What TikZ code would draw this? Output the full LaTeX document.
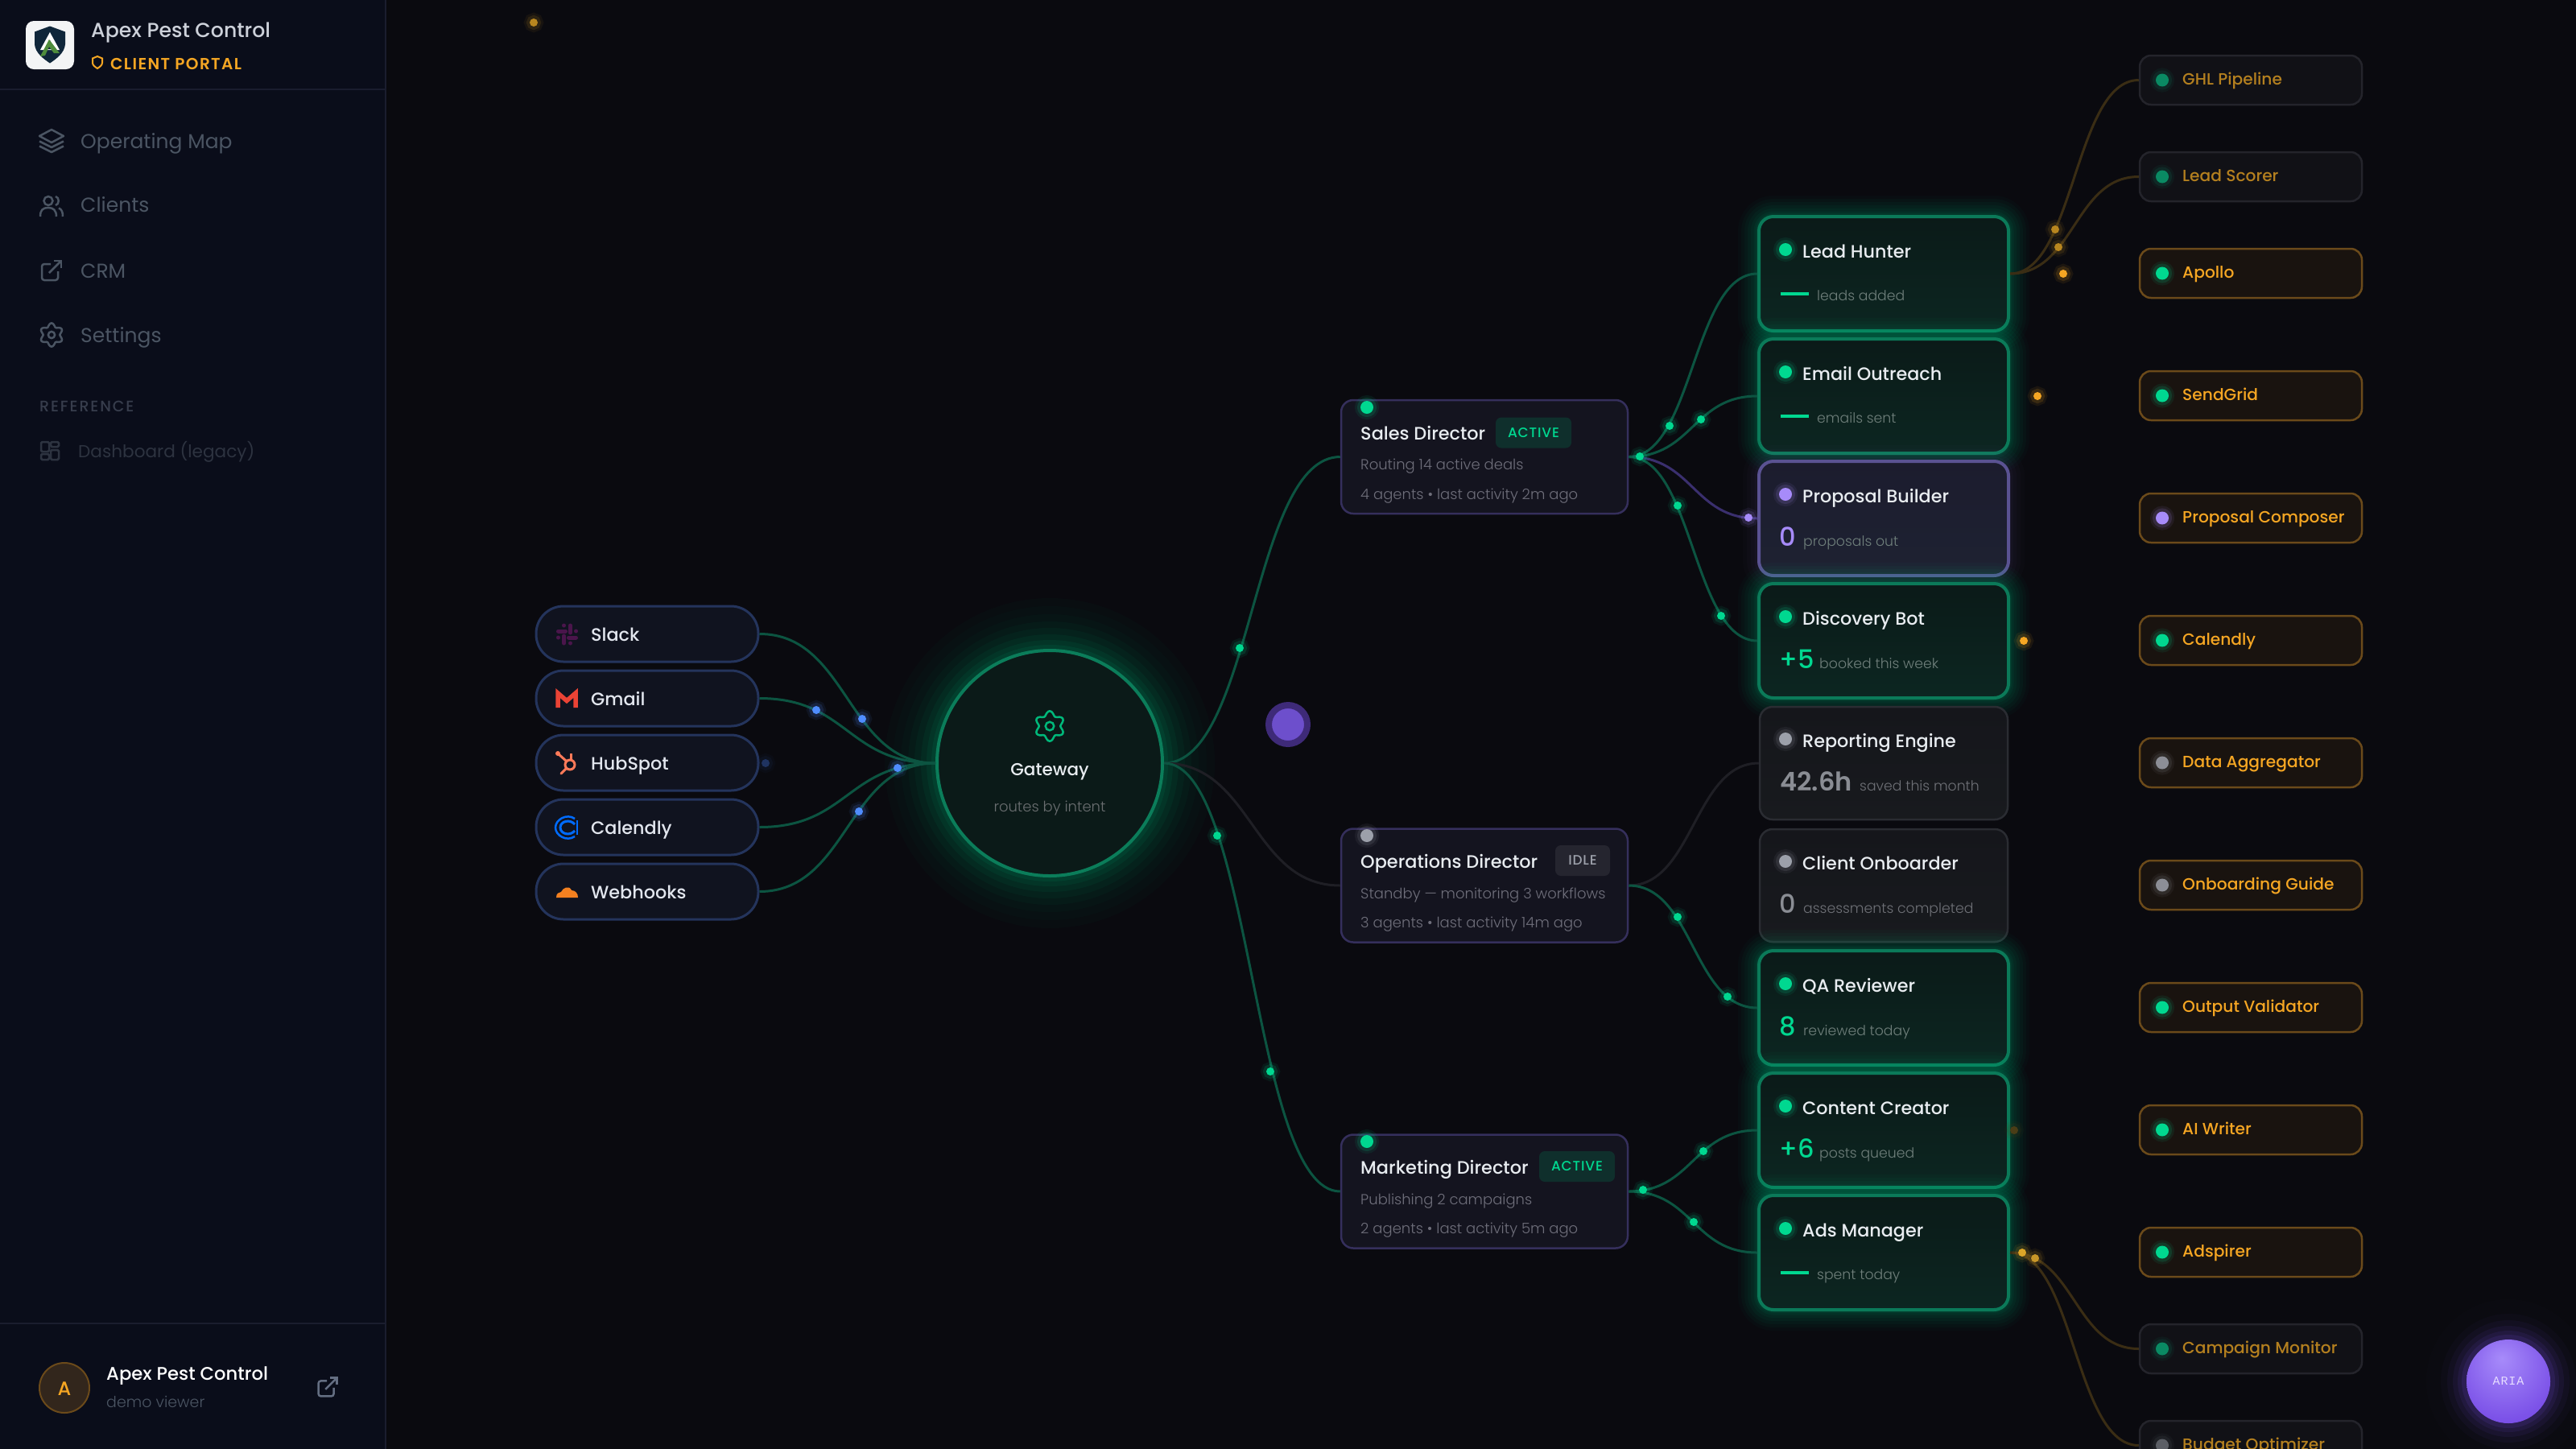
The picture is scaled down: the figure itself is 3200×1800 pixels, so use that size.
\documentclass[tikz,border=0pt]{standalone}
\usepackage{fontspec}
\usepackage{xcolor}
\usepackage{tikz}
\usetikzlibrary{calc}
\setmainfont{Poppins}
\newfontfamily\lightfont{Poppins Light}
\newfontfamily\medfont{Poppins Medium}
\newfontfamily\semifont{Poppins SemiBold}
\newfontfamily\monofont{Liberation Mono}
\newcommand{\fsz}[1]{\fontsize{#1}{#1}\selectfont}

\definecolor{mainbg}{HTML}{0A0A0F}
\definecolor{sidebg}{HTML}{0A0D1A}
\definecolor{sideline}{HTML}{1A1D2E}
\definecolor{neon}{HTML}{00D890}
\definecolor{wiregreen}{HTML}{0C5441}
\definecolor{wiredark}{HTML}{1F1F25}
\definecolor{wirepurple}{HTML}{3A2F6E}
\definecolor{wireamber}{HTML}{3A2D14}
\definecolor{amber}{HTML}{F5A623}
\definecolor{violet}{HTML}{A78BFA}
\definecolor{flowblue}{HTML}{4F8CFF}
\definecolor{logowhite}{HTML}{F3F4F5}
\definecolor{logonavy}{HTML}{0F263A}
\definecolor{logogreen}{HTML}{4E8C3C}
\definecolor{brandtxt}{HTML}{CDD1DA}
\definecolor{menugrey}{HTML}{4B5563}
\definecolor{refgrey}{HTML}{373D4C}
\definecolor{legacygrey}{HTML}{2D3340}
\definecolor{avatarfill}{HTML}{32261C}
\definecolor{amberline}{HTML}{6B4A1A}
\definecolor{linkgrey}{HTML}{646E82}
\definecolor{slackpurple}{HTML}{4A154B}
\definecolor{gmailred}{HTML}{EA4335}
\definecolor{huborange}{HTML}{FF7A59}
\definecolor{calblue}{HTML}{006BFF}
\definecolor{cloudorange}{HTML}{F38020}
\definecolor{labeltxt}{HTML}{E2E6EE}
\definecolor{titletxt}{HTML}{E8ECF0}
\definecolor{pillfill}{HTML}{10131F}
\definecolor{pillline}{HTML}{24345C}
\definecolor{dirfill}{HTML}{14141F}
\definecolor{dirline}{HTML}{352F5C}
\definecolor{dirsubtxt}{HTML}{6E6E7A}
\definecolor{agenttop}{HTML}{0B1A18}
\definecolor{agentbot}{HTML}{0C2621}
\definecolor{agentline}{HTML}{0B7A59}
\definecolor{violettop}{HTML}{1C1C2E}
\definecolor{violetbot}{HTML}{1E2232}
\definecolor{violetline}{HTML}{5A5292}
\definecolor{greytop}{HTML}{15161B}
\definecolor{greybot}{HTML}{181A1E}
\definecolor{greyline}{HTML}{2A2C32}
\definecolor{toolonfill}{HTML}{19130F}
\definecolor{tooloffill}{HTML}{111116}
\definecolor{tooloffline}{HTML}{24242B}
\definecolor{dimgreen}{HTML}{0A8A63}
\definecolor{dotgrey}{HTML}{9CA0AA}
\definecolor{dotgreyb}{HTML}{8C8E96}
\definecolor{dotdim}{HTML}{5C5F66}
\definecolor{amberdim}{HTML}{B4801F}
\definecolor{badgegreen}{HTML}{0F2F2C}
\definecolor{badgegrey}{HTML}{25252F}
\definecolor{subgreen}{HTML}{6F7F7B}
\definecolor{subgrey}{HTML}{6E7076}
\definecolor{numgrey}{HTML}{8A8D94}
\definecolor{gateline}{HTML}{0B7D5A}
\definecolor{gatesub}{HTML}{6A6E70}
\definecolor{bluedim}{HTML}{1F3360}
\definecolor{amberflow}{HTML}{B8861F}
\definecolor{writerdim}{HTML}{4A3D16}
\definecolor{adsflow}{HTML}{DCA528}
\definecolor{adsflowb}{HTML}{C89628}
\definecolor{pulsefill}{HTML}{6D4FCC}
\definecolor{pulseline}{HTML}{3E2A78}
\definecolor{ariamid}{HTML}{7C52E8}
\definecolor{ariadeep}{HTML}{6428D7}
\definecolor{arialabeltxt}{HTML}{E6DCFF}
\pgfdeclareradialshading{ariashade}{\pgfpoint{-4bp}{14bp}}{color(0bp)=(violet); color(30bp)=(ariamid); color(66bp)=(ariadeep)}

\tikzset{
    txt/.style={anchor=west, inner sep=0pt, yshift=-1.5pt, font=\fsz{#1}, text height={0.8*#1}, text depth={0.2*#1}},
    ctr/.style={anchor=center, inner sep=0pt, yshift=-1.5pt, font=\fsz{#1}, text height={0.8*#1}, text depth={0.2*#1}},
    glowgreen/.style={
        preaction={draw=neon, draw opacity=.025, line width=52},
        preaction={draw=neon, draw opacity=.03, line width=44},
        preaction={draw=neon, draw opacity=.035, line width=36},
        preaction={draw=neon, draw opacity=.04, line width=28},
        preaction={draw=neon, draw opacity=.045, line width=20},
        preaction={draw=neon, draw opacity=.05, line width=13},
        preaction={draw=neon, draw opacity=.055, line width=8}},
    glowviolet/.style={
        preaction={draw=violet, draw opacity=.015, line width=40},
        preaction={draw=violet, draw opacity=.02, line width=30},
        preaction={draw=violet, draw opacity=.025, line width=20},
        preaction={draw=violet, draw opacity=.03, line width=11}},
    halo/.style={
        preaction={draw=#1, draw opacity=.08, line width=14},
        preaction={draw=#1, draw opacity=.14, line width=8}},
    flowdot/.style={circle, inner sep=0pt, minimum size=10, fill=#1, halo=#1},
    statusdot/.style={circle, inner sep=0pt, minimum size=16, fill=#1, halo=#1},
    pillbox/.style={rectangle, rounded corners=34, minimum width=276, minimum height=69, inner sep=0pt, fill=pillfill, draw=pillline, line width=3},
    dirbox/.style={rectangle, rounded corners=15, minimum width=356, minimum height=141, inner sep=0pt, fill=dirfill, draw=dirline, line width=2.5},
    agentgreen/.style={rectangle, rounded corners=18, minimum width=310, minimum height=142, inner sep=0pt, top color=agenttop, bottom color=agentbot, draw=agentline, line width=4, glowgreen},
    agentviolet/.style={rectangle, rounded corners=18, minimum width=310, minimum height=142, inner sep=0pt, top color=violettop, bottom color=violetbot, draw=violetline, line width=4, glowviolet},
    agentgrey/.style={rectangle, rounded corners=16, minimum width=308, minimum height=140, inner sep=0pt, top color=greytop, bottom color=greybot, draw=greyline, line width=2.5},
    toolon/.style={rectangle, rounded corners=14, minimum width=276, minimum height=61, inner sep=0pt, fill=toolonfill, draw=amberline, line width=2.5},
    tooloff/.style={rectangle, rounded corners=14, minimum width=276, minimum height=61, inner sep=0pt, fill=tooloffill, draw=tooloffline, line width=2.5},
    wire/.style={draw=#1, line width=3},
    menutxt/.style={txt=25, text=menugrey},
    pilltxt/.style={txt=22.3, text=labeltxt, execute at begin node=\medfont},
    dirtitle/.style={txt=22.4, text=titletxt, execute at begin node=\medfont},
    dirsub/.style={txt=18, text=dirsubtxt, execute at begin node=\lightfont},
    badge/.style={rectangle, rounded corners=7, inner sep=0pt, minimum height=38},
    agenttitle/.style={txt=22.3, text=titletxt, execute at begin node=\medfont},
    agentsub/.style={txt=17.3, text=subgreen, execute at begin node=\lightfont},
    metric/.style={txt=32, text=#1, execute at begin node=\medfont},
    tooltxt/.style={txt=20.2, text=#1, execute at begin node=\medfont},
    gearicon/.pic={
        \draw [pic actions] plot [smooth cycle, domain=0:354, samples=60, variable=\t] (\t:{1+.17*cos(6*(\t-90))});
        \draw [pic actions] (0, 0) circle (.33);
    },
    linkicon/.pic={
        \draw [pic actions, rounded corners=3] (-1, -8) -- (-12, -8) -- (-12, 12) -- (8, 12) -- (8, 1);
        \draw [pic actions] (-3, 3) -- (12, -12);
        \draw [pic actions] (3, -12) -- (12, -12) -- (12, -3);
    },
}

\begin{document}
\begin{tikzpicture}[x=1pt, y=-1pt]
    \useasboundingbox (0, 0) rectangle (3200, 1799.7);
    \clip (0, 0) rectangle (3200, 1799.7);
    \fill [mainbg] (0, 0) rectangle (3200, 1800);

    % sidebar
    \fill [sidebg] (0, 0) rectangle (478, 1800);
    \draw [sideline, line width=2] (479, 0) -- (479, 1800);
    \draw [sideline, line width=2] (0, 110.5) -- (478, 110.5);
    \draw [sideline, line width=2] (0, 1644) -- (478, 1644);

    % logo
    \fill [logowhite, rounded corners=10] (32, 26) rectangle (92, 86);
    \fill [logonavy] (62, 32.5) -- (81, 39.5) -- (81, 55) .. controls (80, 66) and (70, 73) .. (62, 78.5) .. controls (54, 73) and (44, 66) .. (43, 55) -- (43, 39.5) -- cycle;
    \fill [white] (62, 40) -- (74, 62) -- (50, 62) -- cycle;
    \fill [logonavy] (62, 50) -- (68, 61) -- (56, 61) -- cycle;
    \fill [logogreen] (50, 70) -- (61, 49) -- (74, 66) -- (67, 66) -- (61, 58) -- (56, 69) -- cycle;

    \node [txt=25.2, text=brandtxt, execute at begin node=\medfont] (brandtitle) at (113, 37) {Apex Pest Control};
    \draw [amber, line width=2] (121, 70) -- (127, 72.5) -- (127, 78) .. controls (127, 81) and (124, 83) .. (121, 85) .. controls (118, 83) and (115, 81) .. (115, 78) -- (115, 72.5) -- cycle; % small shield
    \node [txt=20, text=amber, execute at begin node=\semifont\addfontfeature{LetterSpace=7}] (brandportal) at (137, 79) {CLIENT PORTAL};

    % menu
    \draw [menugrey, line width=2.5, line join=round] (49, 169) -- (64, 161) -- (79, 169) -- (64, 177) -- cycle; % layers
    \draw [menugrey, line width=2.5, line join=round] (49, 175.5) -- (64, 183) -- (79, 175.5);
    \draw [menugrey, line width=2.5, line join=round] (49, 181.5) -- (64, 189) -- (79, 181.5);
    \node [menutxt] (menumap) at (100, 175) {Operating Map};

    \draw [menugrey, line width=2.5] (60, 249.5) circle (5.5); % users
    \draw [menugrey, line width=2.5] (50, 269) .. controls (50, 261) and (53, 258) .. (60, 258) .. controls (66, 258) and (70, 261) .. (70, 269);
    \draw [menugrey, line width=2.5] (69, 244) .. controls (74, 245) and (74, 254) .. (69, 255);
    \draw [menugrey, line width=2.5] (73, 258.5) .. controls (77, 260) and (78, 264) .. (78, 269);
    \node [menutxt] (menuclients) at (100, 254) {Clients};

    \pic [draw=menugrey, line width=2.5] at (64, 336) {linkicon};
    \node [menutxt] (menucrm) at (100, 336) {CRM};

    \pic [draw=menugrey, line width=2.5, scale=12.5] at (64, 416) {gearicon};
    \node [menutxt] (menusettings) at (100, 416) {Settings};

    \node [txt=19, text=refgrey, execute at begin node=\medfont\addfontfeature{LetterSpace=10}] (menuref) at (49, 504) {REFERENCE};

    \draw [legacygrey, line width=2.5, rounded corners=1.5] (51, 549) rectangle (61, 561); % grid
    \draw [legacygrey, line width=2.5, rounded corners=1.5] (63, 549) rectangle (73, 555);
    \draw [legacygrey, line width=2.5, rounded corners=1.5] (51, 564) rectangle (61, 571);
    \draw [legacygrey, line width=2.5, rounded corners=1.5] (63, 559) rectangle (73, 571);
    \node [txt=21.6, text=legacygrey] (menulegacy) at (97, 561) {Dashboard (legacy)};

    % user row
    \node [circle, inner sep=0pt, minimum size=62, fill=avatarfill, draw=amberline, line width=2] (avatar) at (80, 1724) {};
    \node [ctr=24, text=amber, execute at begin node=\medfont] (avatarletter) at (80, 1725) {A};
    \node [txt=22.7, text=white, execute at begin node=\medfont] (username) at (132, 1706) {Apex Pest Control};
    \node [txt=19, text=menugrey, execute at begin node=\lightfont] (userrole) at (132, 1741) {demo viewer};
    \pic [draw=linkgrey, line width=2.5, scale=.95] at (407, 1723) {linkicon};

    % sources
    \node [pillbox] (slack) at (804, 787.5) {};
    \node [pillbox] (gmail) at (804, 867.5) {};
    \node [pillbox] (hubspot) at (804, 947.5) {};
    \node [pillbox] (calendly) at (804, 1027.5) {};
    \node [pillbox] (webhooks) at (804, 1107.5) {};

    \begin{scope}[shift={(704.5, 788)}] % slack icon
        \draw [slackpurple, line width=5, line cap=round] (-11, -4) -- (-2, -4);
        \draw [slackpurple, line width=5, line cap=round] (4, -11) -- (4, -2);
        \draw [slackpurple, line width=5, line cap=round] (2, 4) -- (11, 4);
        \draw [slackpurple, line width=5, line cap=round] (-4, 2) -- (-4, 11);
        \fill [slackpurple] (-4, -11) circle (2.5);
        \fill [slackpurple] (11, -4) circle (2.5);
        \fill [slackpurple] (4, 11) circle (2.5);
        \fill [slackpurple] (-11, 4) circle (2.5);
    \end{scope}
    \draw [gmailred, line width=5.5, miter limit=10] (693, 879) -- (693, 861) -- (704, 870.5) -- (715, 861) -- (715, 879); % gmail icon
    \draw [huborange, line width=3] (708, 950) circle (6); % hubspot icon
    \draw [huborange, line width=3] (703, 945) -- (693, 936);
    \draw [huborange, line width=3] (709, 944) -- (709, 936);
    \draw [huborange, line width=3, line cap=round] (703, 955) -- (697, 961);
    \fill [huborange] (693, 936) circle (3);
    \draw [calblue, line width=2.5] (714, 1017) .. controls (704, 1010) and (690, 1018) .. (690, 1028) .. controls (690, 1038) and (704, 1046) .. (714, 1039); % calendly icon
    \draw [calblue, line width=3] (714, 1024) .. controls (708, 1017) and (696, 1020) .. (696, 1028) .. controls (696, 1036) and (708, 1039) .. (714, 1032);
    \draw [calblue, line width=2.5] (717, 1019) -- (717, 1037);
    \fill [cloudorange] (691, 1115) .. controls (691, 1110) and (694, 1108) .. (697, 1108) .. controls (699, 1103) and (707, 1099) .. (710, 1106) .. controls (715, 1106) and (718, 1110) .. (718, 1115) -- cycle; % webhooks cloud

    \node [pilltxt] (slacklabel) at (734, 788) {Slack};
    \node [pilltxt] (gmaillabel) at (734, 868) {Gmail};
    \node [pilltxt] (hubspotlabel) at (734, 948) {HubSpot};
    \node [pilltxt] (calendlylabel) at (734, 1028) {Calendly};
    \node [pilltxt] (webhookslabel) at (734, 1108) {Webhooks};

    % gateway
    \node [circle, inner sep=0pt, minimum size=280, fill=agenttop, draw=gateline, line width=4,
        preaction={draw=neon, draw opacity=.018, line width=130},
        preaction={draw=neon, draw opacity=.02, line width=110},
        preaction={draw=neon, draw opacity=.025, line width=90},
        preaction={draw=neon, draw opacity=.03, line width=72},
        preaction={draw=neon, draw opacity=.04, line width=56},
        preaction={draw=neon, draw opacity=.05, line width=40},
        preaction={draw=neon, draw opacity=.06, line width=26},
        preaction={draw=neon, draw opacity=.07, line width=14}] (gateway) at (1304, 948) {};
    \pic [draw=neon!85!black, line width=2.5, scale=16] at (1304, 902) {gearicon};
    \node [ctr=21.5, text=titletxt, execute at begin node=\medfont] (gatewaytitle) at (1304, 956) {Gateway};
    \node [ctr=18, text=gatesub, execute at begin node=\lightfont] (gatewaysub) at (1304, 1002) {routes by intent};

    % directors
    \begin{scope}[shift={(1844, 567.5)}]
        \node [dirbox] (salesdir) at (0, 0) {};
        \node [statusdot=neon] (salesdot) at (-146, -61.5) {};
        \node [dirtitle] (salestitle) at (-154, -29.5) {Sales Director};
        \node [badge, minimum width=94, fill=badgegreen] (salesbadge) at (61, -30) {};
        \node [ctr=17, text=neon, execute at begin node=\medfont\addfontfeature{LetterSpace=5}] (salesbadgetxt) at (61, -31) {ACTIVE};
        \node [dirsub] (salesline) at (-154, 9.5) {Routing 14 active deals};
        \node [dirsub] (salesinfo) at (-154, 46.5) {4 agents • last activity 2m ago};
    \end{scope}
    \begin{scope}[shift={(1844, 1100)}]
        \node [dirbox] (opsdir) at (0, 0) {};
        \node [statusdot=dotgrey] (opsdot) at (-146, -62) {};
        \node [dirtitle] (opstitle) at (-154, -30) {Operations Director};
        \node [badge, minimum width=68, fill=badgegrey] (opsbadge) at (122, -31) {};
        \node [ctr=17, text=dotgrey, execute at begin node=\medfont\addfontfeature{LetterSpace=5}] (opsbadgetxt) at (122, -32) {IDLE};
        \node [dirsub] (opsline) at (-154, 9.5) {Standby — monitoring 3 workflows};
        \node [dirsub] (opsinfo) at (-154, 46) {3 agents • last activity 14m ago};
    \end{scope}
    \begin{scope}[shift={(1844, 1480)}]
        \node [dirbox] (mktdir) at (0, 0) {};
        \node [statusdot=neon] (mktdot) at (-146, -62) {};
        \node [dirtitle] (mkttitle) at (-154, -30) {Marketing Director};
        \node [badge, minimum width=94, fill=badgegreen] (mktbadge) at (115, -31) {};
        \node [ctr=17, text=neon, execute at begin node=\medfont\addfontfeature{LetterSpace=5}] (mktbadgetxt) at (115, -32) {ACTIVE};
        \node [dirsub] (mktline) at (-154, 10) {Publishing 2 campaigns};
        \node [dirsub] (mktinfo) at (-154, 46) {2 agents • last activity 5m ago};
    \end{scope}

    % agents
    \begin{scope}[shift={(2340, 340)}]
        \node [agentgreen] (leadhunter) at (0, 0) {};
        \node [statusdot=neon] (leadhunterdot) at (-122, -30) {};
        \node [agenttitle] (leadhuntertitle) at (-101, -28) {Lead Hunter};
        \node [fill=neon, inner sep=0pt, minimum width=35, minimum height=3.5] (leadhunterdash) at (-110.5, 25) {};
        \node [agentsub] (leadhuntersub) at (-83, 27) {leads added};
    \end{scope}
    \begin{scope}[shift={(2340, 492)}]
        \node [agentgreen] (emailoutreach) at (0, 0) {};
        \node [statusdot=neon] (emailoutreachdot) at (-122, -30) {};
        \node [agenttitle] (emailoutreachtitle) at (-101, -28) {Email Outreach};
        \node [fill=neon, inner sep=0pt, minimum width=35, minimum height=3.5] (emailoutreachdash) at (-110.5, 25) {};
        \node [agentsub] (emailoutreachsub) at (-83, 27) {emails sent};
    \end{scope}
    \begin{scope}[shift={(2340, 644)}]
        \node [agentviolet] (proposalbuilder) at (0, 0) {};
        \node [statusdot=violet] (proposalbuilderdot) at (-122, -30) {};
        \node [agenttitle] (proposalbuildertitle) at (-101, -28) {Proposal Builder};
        \node [metric=violet] (proposalbuildernum) at (-130, 23) {0};
        \node [agentsub] (proposalbuildersub) at (-100, 28) {proposals out};
    \end{scope}
    \begin{scope}[shift={(2340, 796)}]
        \node [agentgreen] (discoverybot) at (0, 0) {};
        \node [statusdot=neon] (discoverybotdot) at (-122, -30) {};
        \node [agenttitle] (discoverybottitle) at (-101, -28) {Discovery Bot};
        \node [metric=neon] (discoverybotnum) at (-130, 23) {+5};
        \node [agentsub] (discoverybotsub) at (-80, 28) {booked this week};
    \end{scope}
    \begin{scope}[shift={(2340, 948)}]
        \node [agentgrey] (reportingengine) at (0, 0) {};
        \node [statusdot=dotgrey] (reportingenginedot) at (-122, -30) {};
        \node [agenttitle] (reportingenginetitle) at (-101, -28) {Reporting Engine};
        \node [metric=numgrey, execute at begin node=\semifont] (reportingenginenum) at (-129, 23) {42.6h};
        \node [agentsub, text=subgrey] (reportingenginesub) at (-30, 28) {saved this month};
    \end{scope}
    \begin{scope}[shift={(2340, 1100)}]
        \node [agentgrey] (clientonboarder) at (0, 0) {};
        \node [statusdot=dotgrey] (clientonboarderdot) at (-122, -30) {};
        \node [agenttitle] (clientonboardertitle) at (-101, -28) {Client Onboarder};
        \node [metric=numgrey] (clientonboardernum) at (-130, 23) {0};
        \node [agentsub, text=subgrey] (clientonboardersub) at (-100, 28) {assessments completed};
    \end{scope}
    \begin{scope}[shift={(2340, 1252)}]
        \node [agentgreen] (qareviewer) at (0, 0) {};
        \node [statusdot=neon] (qareviewerdot) at (-122, -30) {};
        \node [agenttitle] (qareviewertitle) at (-101, -28) {QA Reviewer};
        \node [metric=neon] (qareviewernum) at (-130, 23) {8};
        \node [agentsub] (qareviewersub) at (-100, 28) {reviewed today};
    \end{scope}
    \begin{scope}[shift={(2340, 1404)}]
        \node [agentgreen] (contentcreator) at (0, 0) {};
        \node [statusdot=neon] (contentcreatordot) at (-122, -30) {};
        \node [agenttitle] (contentcreatortitle) at (-101, -28) {Content Creator};
        \node [metric=neon] (contentcreatornum) at (-130, 23) {+6};
        \node [agentsub] (contentcreatorsub) at (-80, 28) {posts queued};
    \end{scope}
    \begin{scope}[shift={(2340, 1556)}]
        \node [agentgreen] (adsmanager) at (0, 0) {};
        \node [statusdot=neon] (adsmanagerdot) at (-122, -30) {};
        \node [agenttitle] (adsmanagertitle) at (-101, -28) {Ads Manager};
        \node [fill=neon, inner sep=0pt, minimum width=35, minimum height=3.5] (adsmanagerdash) at (-110.5, 25) {};
        \node [agentsub] (adsmanagersub) at (-83, 27) {spent today};
    \end{scope}

    % tools
    \node [tooloff] (ghl) at (2796, 99.5) {};
    \node [statusdot=dimgreen] (ghldot) at (2686, 99.5) {};
    \node [tooltxt=amberdim] (ghltxt) at (2711, 98) {GHL Pipeline};
    \node [tooloff] (leadscorer) at (2796, 219.5) {};
    \node [statusdot=dimgreen] (leadscorerdot) at (2686, 219.5) {};
    \node [tooltxt=amberdim] (leadscorertxt) at (2711, 218) {Lead Scorer};
    \node [toolon] (apollo) at (2796, 339.5) {};
    \node [statusdot=neon] (apollodot) at (2686, 339.5) {};
    \node [tooltxt=amber] (apollotxt) at (2711, 338) {Apollo};
    \node [toolon] (sendgrid) at (2796, 491.5) {};
    \node [statusdot=neon] (sendgriddot) at (2686, 491.5) {};
    \node [tooltxt=amber] (sendgridtxt) at (2711, 490) {SendGrid};
    \node [toolon] (composer) at (2796, 643.5) {};
    \node [statusdot=violet] (composerdot) at (2686, 643.5) {};
    \node [tooltxt=amber] (composertxt) at (2711, 642) {Proposal Composer};
    \node [toolon] (caltool) at (2796, 795.5) {};
    \node [statusdot=neon] (caltooldot) at (2686, 795.5) {};
    \node [tooltxt=amber] (caltooltxt) at (2711, 794) {Calendly};
    \node [toolon] (aggregator) at (2796, 947.5) {};
    \node [statusdot=dotgreyb] (aggregatordot) at (2686, 947.5) {};
    \node [tooltxt=amber] (aggregatortxt) at (2711, 946) {Data Aggregator};
    \node [toolon] (guide) at (2796, 1099.5) {};
    \node [statusdot=dotgreyb] (guidedot) at (2686, 1099.5) {};
    \node [tooltxt=amber] (guidetxt) at (2711, 1098) {Onboarding Guide};
    \node [toolon] (validator) at (2796, 1251.5) {};
    \node [statusdot=neon] (validatordot) at (2686, 1251.5) {};
    \node [tooltxt=amber] (validatortxt) at (2711, 1250) {Output Validator};
    \node [toolon] (writer) at (2796, 1403.5) {};
    \node [statusdot=neon] (writerdot) at (2686, 1403.5) {};
    \node [tooltxt=amber] (writertxt) at (2711, 1402) {AI Writer};
    \node [toolon] (adspirer) at (2796, 1555.5) {};
    \node [statusdot=neon] (adspirerdot) at (2686, 1555.5) {};
    \node [tooltxt=amber] (adspirertxt) at (2711, 1554) {Adspirer};
    \node [tooloff] (monitor) at (2796, 1675.5) {};
    \node [statusdot=dimgreen] (monitordot) at (2686, 1675.5) {};
    \node [tooltxt=amberdim] (monitortxt) at (2711, 1674) {Campaign Monitor};
    \node [tooloff] (optimizer) at (2796, 1795.5) {};
    \node [statusdot=dotdim] (optimizerdot) at (2686, 1795.5) {};
    \node [tooltxt=amberdim] (optimizertxt) at (2711, 1794) {Budget Optimizer};

    % connectors
    \draw [wire=wiregreen] (slack.east) .. controls +(110, 0) and +(-110, 0) .. (gateway.west);
    \draw [wire=wiregreen] (gmail.east) .. controls +(110, 0) and +(-110, 0) .. (gateway.west);
    \draw [wire=wiregreen] (calendly.east) .. controls +(110, 0) and +(-110, 0) .. (gateway.west);
    \draw [wire=wiregreen] (webhooks.east) .. controls +(110, 0) and +(-110, 0) .. (gateway.west);
    \draw [wire=wiregreen] (gateway.east) .. controls +(110, 0) and +(-110, 0) .. (salesdir.west);
    \draw [wire=wiredark] (gateway.east) .. controls +(110, 0) and +(-110, 0) .. (opsdir.west);
    \draw [wire=wiregreen] (gateway.east) .. controls +(110, 0) and +(-110, 0) .. (mktdir.west);
    \draw [wire=wiregreen] (salesdir.east) .. controls +(80, 0) and +(-80, 0) .. (leadhunter.west);
    \draw [wire=wiregreen] (salesdir.east) .. controls +(80, 0) and +(-80, 0) .. (emailoutreach.west);
    \draw [wire=wirepurple] (salesdir.east) .. controls +(80, 0) and +(-80, 0) .. (proposalbuilder.west);
    \draw [wire=wiregreen] (salesdir.east) .. controls +(80, 0) and +(-80, 0) .. (discoverybot.west);
    \draw [wire=wiredark] (opsdir.east) .. controls +(80, 0) and +(-80, 0) .. (reportingengine.west);
    \draw [wire=wiregreen] (opsdir.east) .. controls +(80, 0) and +(-80, 0) .. (qareviewer.west);
    \draw [wire=wiregreen] (mktdir.east) .. controls +(80, 0) and +(-80, 0) .. (contentcreator.west);
    \draw [wire=wiregreen] (mktdir.east) .. controls +(80, 0) and +(-80, 0) .. (adsmanager.west);
    \draw [wire=wireamber] (leadhunter.east) .. controls +(80, 0) and +(-80, 0) .. (ghl.west);
    \draw [wire=wireamber] (leadhunter.east) .. controls +(80, 0) and +(-80, 0) .. (leadscorer.west);
    \draw [wire=wireamber] (adsmanager.east) .. controls +(80, 0) and +(-80, 0) .. (monitor.west);
    \draw [wire=wireamber] (adsmanager.east) .. controls +(80, 0) and +(-80, 0) .. (optimizer.west);

    % flow dots
    \node [flowdot=amberflow] (topflow) at (663, 28) {};
    \node [flowdot=flowblue] (slackflow) at (1071, 893) {};
    \node [flowdot=flowblue] (gmailflow) at (1014, 882) {};
    \node [flowdot=bluedim] (hubspotflow) at (951, 948) {};
    \node [flowdot=flowblue] (calendlyflow) at (1115, 954) {};
    \node [flowdot=flowblue] (webhooksflow) at (1067, 1008) {};
    \node [flowdot=neon] (salesflow) at (1540, 805) {};
    \node [flowdot=neon] (mktflow) at (1512, 1038) {};
    \node [flowdot=neon] (mktflowb) at (1578, 1331) {};
    \node [flowdot=neon] (salesflowa) at (2037, 567) {};
    \node [flowdot=neon] (salesflowb) at (2074, 529) {};
    \node [flowdot=neon] (salesflowc) at (2113, 521) {};
    \node [flowdot=violet] (salesflowd) at (2172, 643) {};
    \node [flowdot=neon] (salesflowe) at (2084, 628) {};
    \node [flowdot=neon] (salesflowf) at (2138, 765) {};
    \node [flowdot=neon] (opsflowa) at (2084, 1139) {};
    \node [flowdot=neon] (opsflowb) at (2146, 1238) {};
    \node [flowdot=neon] (mktflowc) at (2041, 1478) {};
    \node [flowdot=neon] (mktflowd) at (2116, 1430) {};
    \node [flowdot=neon] (mktflowe) at (2104, 1518) {};
    \node [flowdot=amberflow] (ghlflow) at (2553, 285) {};
    \node [flowdot=amberflow] (scorerflow) at (2557, 307) {};
    \node [flowdot=amber] (apolloflow) at (2563, 340) {};
    \node [flowdot=amber] (sendgridflow) at (2531, 492) {};
    \node [flowdot=amber] (calflow) at (2514, 796) {};
    \node [flowdot=writerdim] (writerflow) at (2502, 1404) {};
    \node [flowdot=adsflow] (adsflowa) at (2512, 1556) {};
    \node [flowdot=adsflowb] (adsflowb) at (2528, 1563) {};

    % pulse and assistant
    \node [circle, inner sep=0pt, minimum size=48, fill=pulsefill, draw=pulseline, line width=8] (flowpulse) at (1600, 900) {};
    \node [circle, inner sep=0pt, minimum size=104, shading=ariashade,
        preaction={draw=violet, draw opacity=.012, line width=100},
        preaction={draw=ariamid, draw opacity=.03, line width=64},
        preaction={draw=ariamid, draw opacity=.05, line width=48},
        preaction={draw=ariamid, draw opacity=.07, line width=34},
        preaction={draw=ariamid, draw opacity=.09, line width=22},
        preaction={draw=ariamid, draw opacity=.12, line width=12}] (aria) at (3116, 1716) {};
    \node [ctr=15, text=arialabeltxt, execute at begin node=\monofont\addfontfeature{LetterSpace=6}] (arialabel) at (3116, 1714) {ARIA};
\end{tikzpicture}
\end{document}
